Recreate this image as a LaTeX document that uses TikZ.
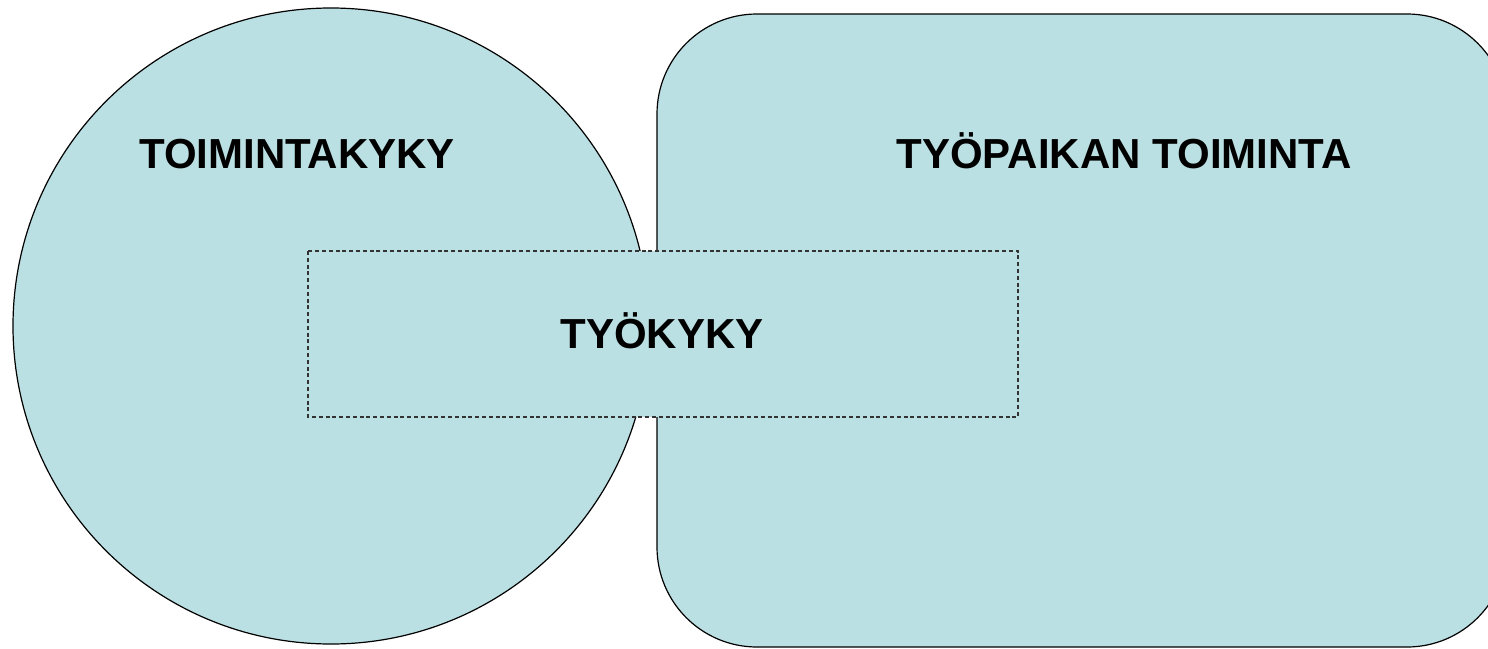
\documentclass[tikz,border=0pt]{standalone}
\usepackage{fontspec}
\setmainfont{Liberation Sans}
\definecolor{paleteal}{RGB}{187,224,227}
\tikzset{
  area/.style={draw=black, line width=0.6pt, fill=paleteal},
  title/.style={font=\bfseries\fontsize{21}{25}\selectfont, inner sep=0pt, anchor=base},
}
\begin{document}
\begin{tikzpicture}[x=0.5pt,y=-0.5pt]
    \useasboundingbox (0,0) rectangle (1488,648);
    \clip (0,0) rectangle (1488,648);

    \draw [area] (331,326) circle [radius=159pt];
    \draw [area, rounded corners=50pt] (657,14) rectangle (1507,647);
    \draw [area, draw=black!80, dash pattern=on 2pt off 1.4pt] (308,251) rectangle (1018,417);

    \node [title] (toimintakyky) at (297,168) {TOIMINTAKYKY};
    \node [title] (tyopaikka) at (1124,168) {TYÖPAIKAN TOIMINTA};
    \node [title] (tyokyky) at (662,348) {TYÖKYKY};
\end{tikzpicture}
\end{document}
